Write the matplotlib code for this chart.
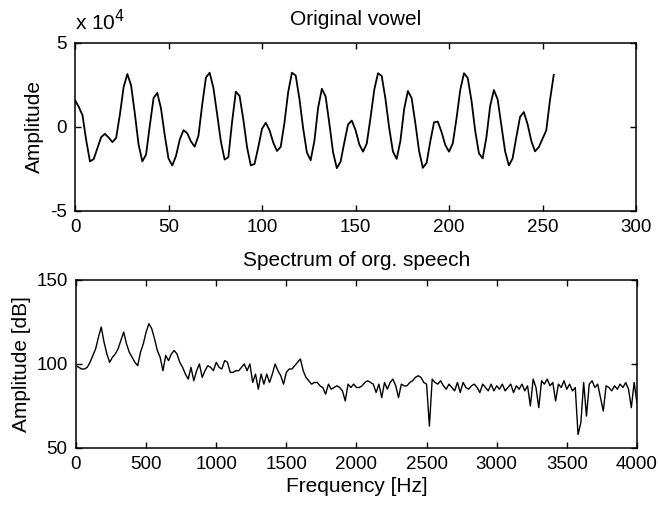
import matplotlib
matplotlib.use("Agg")
import matplotlib.pyplot as plt
import numpy as np

plt.rcParams["font.family"] = ["Liberation Sans", "DejaVu Sans"]

# waveform, every 2nd sample (0..256), amplitude in units of 1e4
wave_idx = np.arange(0, 257, 2)
wave = [
    1.6, 1.2, 0.7, -0.8, -2.05, -1.91, -1.25, -0.6, -0.41, -0.63,
    -0.9, -0.65, 0.74, 2.38, 3.15, 2.47, 0.79, -1.05, -2.05, -1.64,
    0.08, 1.72, 2.03, 1.09, -0.5, -1.88, -2.29, -1.73, -0.75, -0.19,
    -0.37, -0.86, -1.17, -0.52, 1.31, 2.94, 3.23, 2.33, 0.76, -0.86,
    -1.94, -1.8, 0.31, 2.1, 1.85, 0.45, -1.2, -2.29, -2.2, -1.2,
    -0.11, 0.25, -0.19, -0.92, -1.43, -1.18, 0.26, 2.08, 3.23, 3.07,
    1.68, -0.08, -1.52, -1.98, -0.84, 1.14, 2.27, 1.82, 0.21, -1.51,
    -2.45, -2.07, -0.93, 0.15, 0.38, -0.18, -1.03, -1.47, -0.99, 0.53,
    2.2, 3.2, 3.04, 1.68, -0.05, -1.46, -1.9, -0.83, 1.06, 2.14,
    1.72, 0.22, -1.44, -2.43, -2.14, -0.85, 0.28, 0.32, -0.3, -1.07,
    -1.47, -0.98, 0.5, 2.2, 3.2, 2.92, 1.58, -0.23, -1.57, -1.87,
    -0.61, 1.25, 2.2, 1.64, 0.09, -1.45, -2.29, -1.87, -0.6, 0.6,
    0.89, 0.17, -0.83, -1.45, -1.2, -0.7, -0.2, 1.6, 3.1,
]

# spectrum, 20 Hz steps 0..4000
freq = np.arange(0, 4001, 20)
spec_db = [
    99, 98, 97, 97, 98, 101, 105, 109, 116, 122,
    113, 106, 101, 104, 106, 109, 114, 119, 112, 107,
    104, 101, 99, 107, 112, 119, 124, 121, 115, 108,
    104, 96, 105, 102, 106, 108, 106, 101, 98, 94,
    91, 98, 90, 96, 100, 92, 96, 99, 98, 96,
    101, 98, 97, 102, 101, 95, 95, 96, 96, 98,
    100, 96, 100, 89, 94, 85, 94, 88, 94, 89,
    94, 100, 96, 93, 88, 95, 97, 97, 99, 101,
    103, 96, 92, 90, 88, 89, 89, 87, 86, 82,
    88, 85, 86, 87, 86, 84, 78, 88, 86, 88,
    86, 86, 87, 89, 90, 89, 88, 83, 88, 80,
    89, 85, 89, 91, 87, 80, 88, 87, 87, 89,
    90, 92, 93, 92, 89, 88, 63, 91, 89, 88,
    90, 87, 85, 88, 86, 84, 89, 83, 89, 86,
    85, 87, 88, 86, 83, 88, 86, 84, 88, 84,
    87, 85, 88, 84, 86, 88, 83, 87, 85, 88,
    84, 87, 75, 91, 86, 74, 90, 88, 91, 87,
    89, 78, 88, 86, 90, 85, 88, 84, 86, 58,
    65, 89, 69, 88, 90, 86, 88, 80, 72, 87,
    86, 84, 87, 85, 88, 86, 89, 85, 74, 89,
    77,
]

fs = 15
tfs = 13.5

fig = plt.figure(figsize=(6.58, 5.05), dpi=100)
ax1 = fig.add_axes([0.114, 0.5822, 0.8526, 0.3327])
ax2 = fig.add_axes([0.1155, 0.1129, 0.8525, 0.3327])

ax1.plot(wave_idx, np.array(wave) * 1e4, color="black", lw=1.3)
ax1.set_xlim(0, 300)
ax1.set_ylim(-5e4, 5e4)
ax1.set_xticks(range(0, 301, 50))
ax1.set_yticks([-5e4, 0, 5e4])
ax1.set_yticklabels(["-5", "0", "5"])
ax1.set_ylabel("Amplitude", fontsize=fs, labelpad=4)
ax1.set_title("Original vowel", fontsize=fs, pad=13)
ax1.text(0.0, 1.05, "x 10$^4$", transform=ax1.transAxes, fontsize=fs,
         ha="left", va="bottom")

ax2.plot(freq, spec_db, color="black", lw=1.0)
ax2.set_xlim(0, 4000)
ax2.set_ylim(50, 150)
ax2.set_xticks(range(0, 4001, 500))
ax2.set_yticks([50, 100, 150])
ax2.set_ylabel("Amplitude [dB]", fontsize=fs, labelpad=4)
ax2.set_xlabel("Frequency [Hz]", fontsize=fs, labelpad=3)
ax2.set_title("Spectrum of org. speech", fontsize=fs, pad=10)

for ax in (ax1, ax2):
    ax.tick_params(direction="in", top=True, right=True, length=4,
                   width=1, labelsize=tfs, pad=6)
    for s in ax.spines.values():
        s.set_linewidth(1.1)

fig.savefig("out.png", dpi=100)
